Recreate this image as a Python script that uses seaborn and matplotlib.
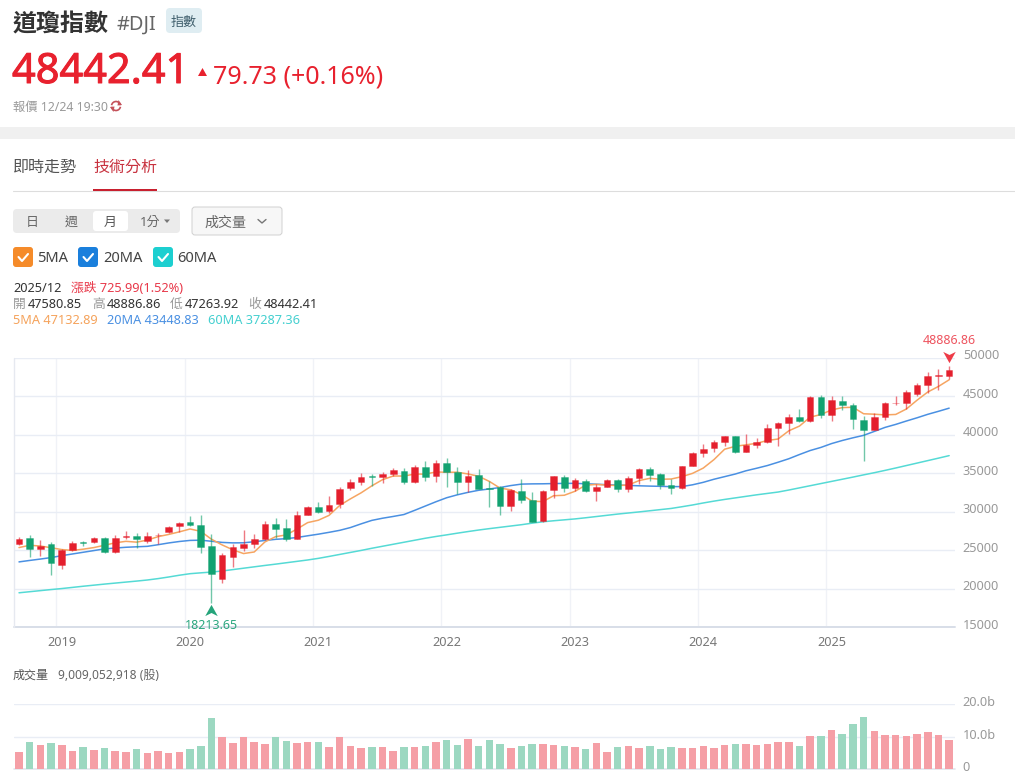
import numpy as np
import pandas as pd
import seaborn as sns
import matplotlib
matplotlib.use("Agg")
import matplotlib.pyplot as plt
import matplotlib.patheffects as pe
from matplotlib.colors import to_rgba
from matplotlib.patches import FancyBboxPatch, Rectangle, Polygon, Arc
from matplotlib.path import Path
from matplotlib.transforms import ScaledTranslation

# monthly candles, 2018/09 .. 2025/12
open_px = [25865, 26600, 25150, 25800, 23060, 25020, 26010, 26080, 26640, 24820, 26770, 26873,
           26198, 26963, 27348, 28109, 28639, 28320, 25591, 21227, 24120, 25342, 25879, 26414,
           28439, 27941, 26502, 29639, 30627, 30055, 31066, 33054, 33904, 34584, 34507, 34933,
           35312, 33834, 35850, 34678, 36321, 35150, 33820, 34740, 33061, 33150, 30737, 32720,
           31510, 28855, 32787, 34570, 33132, 34000, 32700, 33274, 34098, 32908, 34407, 35560,
           34837, 33433, 33053, 35951, 37566, 38283, 38996, 39807, 37816, 38686, 39119, 40843,
           41563, 42330, 41763, 44910, 42544, 44350, 43841, 41950, 40669, 42270, 44094, 44130,
           45350, 46397, 47562, 47580.85]
high_px = [26770, 27000, 26290, 26030, 25170, 26150, 26160, 26700, 26680, 26940, 27460, 27200,
           27370, 27200, 28175, 28702, 29400, 29570, 27070, 24700, 25760, 27580, 27072, 28750,
           29199, 29041, 30116, 30700, 31272, 32009, 33259, 34256, 35091, 34870, 35171, 35631,
           35631, 36052, 36565, 36679, 36953, 35824, 35373, 35492, 34000, 33298, 32911, 34220,
           32505, 32889, 34650, 34712, 34334, 34200, 33570, 34257, 34260, 34588, 35679, 35750,
           34979, 34250, 35987, 37778, 38783, 39282, 39889, 39889, 40077, 39580, 41430, 41700,
           42740, 43340, 45074, 45170, 45090, 45054, 44100, 42390, 42870, 44300, 45040, 45750,
           46740, 48090, 48520, 48886.86]
low_px = [25734, 24130, 24270, 21760, 22630, 24880, 25520, 25999, 24700, 24680, 26440, 25339,
          25978, 25750, 27300, 27326, 28170, 24680, 18213.65, 20735, 22790, 24843, 25351, 26314,
          26537, 26143, 26501, 29530, 29856, 29842, 30547, 32818, 33473, 33320, 33741, 34690,
          33613, 33785, 34006, 33920, 33150, 32272, 32578, 32913, 30635, 29610, 30144, 31155,
          28715, 28660, 31727, 32500, 32650, 32500, 31429, 33235, 32540, 32500, 33660, 34000,
          33000, 32327, 32950, 35900, 37122, 37800, 38500, 37600, 37800, 38250, 38900, 38500,
          40040, 41700, 41600, 42170, 41800, 43170, 40690, 36612, 40669, 41900, 43820, 43340,
          45040, 45480, 45870, 47263.92]
close_px = [26458, 25116, 25538, 23327, 24999, 25916, 25930, 26593, 24815, 26600, 26864, 26403,
            26917, 27046, 28051, 28538, 28256, 25409, 21917, 24346, 25383, 25813, 26428, 28430,
            27782, 26501, 29639, 30606, 29982, 30932, 32981, 33874, 34529, 34502, 34935, 35360,
            33843, 35820, 34483, 36338, 35131, 33893, 34678, 32977, 32990, 30775, 32845, 31510,
            28725, 32732, 34589, 33147, 34086, 32657, 33274, 34098, 32908, 34407, 35560, 34722,
            33508, 33053, 35951, 37690, 38150, 38996, 39807, 37816, 38686, 39119, 40843, 41563,
            42330, 41763, 44910, 42544, 44544, 43841, 42002, 40669, 42270, 44094, 44130, 45544,
            46397, 47562, 47716, 48442.41]
ma5 = [25350, 25650, 25550, 25330, 25090, 24980, 25140, 25350, 25650, 25970, 26160, 26055,
       26320, 26766, 27056, 27391, 27762, 27460, 26434, 25693, 25062, 24574, 24777, 26080,
       26767, 26991, 27756, 28592, 28902, 29532, 30828, 31675, 32460, 33364, 34164, 34640,
       34634, 34892, 34888, 35169, 35123, 35133, 34905, 34603, 33934, 33063, 32853, 32219,
       31369, 31317, 32080, 32141, 32656, 33442, 33551, 33452, 33405, 33469, 34049, 34339,
       34221, 34250, 34559, 34985, 35670, 36768, 38119, 38492, 38691, 38885, 39254, 39445,
       40508, 41124, 42282, 42622, 43218, 43520, 43568, 42720, 42665, 42575, 42633, 43341,
       44487, 45545, 46270, 47132.89]
ma20 = [23490, 23680, 23860, 24050, 24300, 24520, 24740, 24960, 25180, 25290, 25390, 25450,
        25510, 25720, 25950, 26140, 26280, 26310, 26170, 26020, 25960, 25970, 26110, 26270,
        26420, 26510, 26660, 26880, 27090, 27330, 27590, 27950, 28430, 28880, 29160, 29390,
        29640, 30180, 30740, 31300, 31820, 32200, 32520, 32790, 32960, 33150, 33400, 33590,
        33620, 33630, 33660, 33680, 33690, 33630, 33580, 33510, 33470, 33420, 33370, 33330,
        33300, 33260, 33270, 33500, 33820, 34220, 34560, 34900, 35320, 35650, 36000, 36430,
        36880, 37430, 37950, 38350, 38850, 39250, 39600, 39920, 40430, 40950, 41340, 41780,
        42200, 42650, 43040, 43448.83]
ma60 = [19480, 19620, 19760, 19900, 20030, 20180, 20330, 20470, 20610, 20740, 20870, 21000,
        21140, 21320, 21530, 21760, 21960, 22070, 22170, 22310, 22490, 22670, 22850, 23030,
        23200, 23380, 23560, 23740, 23950, 24200, 24460, 24720, 24980, 25260, 25520, 25780,
        26040, 26300, 26560, 26790, 27000, 27220, 27430, 27630, 27810, 27980, 28150, 28320,
        28520, 28700, 28830, 28950, 29070, 29220, 29380, 29540, 29700, 29840, 29980, 30130,
        30280, 30430, 30650, 30880, 31140, 31380, 31600, 31800, 32000, 32200, 32380, 32560,
        32820, 33100, 33380, 33660, 33940, 34220, 34500, 34790, 35070, 35370, 35680, 36000,
        36320, 36640, 36960, 37287.36]
volume = [5.4, 8.4, 7.3, 8.2, 7.3, 5.5, 6.7, 5.9, 6.4, 5.6, 5.3, 6.2,
          5.1, 5.7, 5.0, 5.2, 6.3, 7.0, 15.6, 9.9, 8.1, 9.9, 8.4, 7.6,
          10.0, 8.6, 8.0, 8.3, 8.3, 6.8, 9.8, 7.0, 6.6, 6.9, 6.8, 5.7,
          6.7, 6.8, 7.2, 8.4, 8.9, 7.4, 9.2, 7.2, 9.0, 7.9, 6.4, 7.0,
          7.9, 7.9, 7.3, 7.0, 6.9, 6.2, 8.2, 5.4, 6.7, 7.0, 6.5, 7.2,
          6.3, 6.7, 6.4, 6.4, 7.2, 6.4, 7.4, 7.9, 7.7, 7.4, 7.7, 8.4,
          8.4, 7.2, 10.2, 10.3, 12.0, 10.8, 13.8, 15.9, 11.8, 10.6, 10.4, 10.2,
          10.9, 11.4, 10.6, 9.01]
year_ticks = [4, 16, 28, 40, 52, 64, 76]
year_labels = ["2019", "2020", "2021", "2022", "2023", "2024", "2025"]
price_ticks = [15000, 20000, 25000, 30000, 35000, 40000, 45000, 50000]
vol_ticks = [0, 10, 20]
vol_labels = ["0", "10.0b", "20.0b"]

RED = "#E41F2D"
GREEN = "#12A271"
GRID = "#E9EDF5"
TXT = "#333333"
FONT = ["Noto Sans", "Noto Sans CJK TC", "DejaVu Sans"]

W, H = 1015, 776
sns.set_theme(style="white")
plt.rcParams["font.family"] = FONT
plt.rcParams["patch.edgecolor"] = "none"

df = pd.DataFrame({"idx": np.arange(len(close_px)), "open": open_px, "high": high_px,
                   "low": low_px, "close": close_px, "vol": volume,
                   "ma5": ma5, "ma20": ma20, "ma60": ma60})
df["up"] = df["close"] > df["open"]

fig = plt.figure(figsize=(W / 100, H / 100), dpi=100, facecolor="white")


def axes_px(left, top, right, bottom):
    return fig.add_axes([left / W, 1 - bottom / H, (right - left) / W, (bottom - top) / H])


def style_axes(ax):
    ax.set_facecolor("none")
    for s in ax.spines.values():
        s.set_visible(False)
    ax.set_xlim(-0.5, 87.5)
    ax.set_xlabel("")
    ax.set_ylabel("")
    ax.yaxis.grid(True, color=GRID, lw=1.0)
    ax.set_axisbelow(True)
    ax.tick_params(axis="both", length=0)
    ax.yaxis.tick_right()


# price panel
ax = axes_px(13.66, 357.7, 954.5, 627.3)
for col, c in [("ma60", "#55DAD5"), ("ma20", "#4A90E2"), ("ma5", "#F6A562")]:
    sns.lineplot(data=df, x="idx", y=col, color=c, lw=1.1, ax=ax, zorder=2)
for up, sub in df.groupby("up"):
    c = RED if up else GREEN
    ax.vlines(sub["idx"], sub["low"], sub["high"], color=c, lw=1.0, alpha=0.6, zorder=3)
    lo = sub[["open", "close"]].min(axis=1)
    hi = sub[["open", "close"]].max(axis=1)
    ax.bar(sub["idx"], hi - lo, bottom=lo, width=0.62, color=c, edgecolor=to_rgba(c, 0.35), lw=0.72, zorder=4)
style_axes(ax)
ax.set_ylim(15000, 50000)
ax.set_yticks(price_ticks)
ax.set_yticklabels([])
ax.set_xticks(year_ticks)
ax.set_xticklabels(year_labels, fontsize=9.2, color="#777777")
ax.tick_params(axis="x", pad=6)
ax.set_xticks([t - 0.5 for t in year_ticks], minor=True)
ax.xaxis.grid(True, which="minor", color="#F0F2F7", lw=1.0)
ax.tick_params(axis="x", which="minor", length=0)
ax.axhline(15000, color="#D8DEE8", lw=1.4, clip_on=False, zorder=1)
ax.axvline(-0.5, color="#E6E9F0", lw=1.0, clip_on=False, zorder=1)
for v in price_ticks:
    ax.annotate(str(v), (1, v), xycoords=ax.get_yaxis_transform(), xytext=(6, 1.5),
                textcoords="offset points", va="center", ha="left", fontsize=9.2, color="#999999")

# high / low markers
arrow_down = Path([(-1, 0.9), (0, 0.4), (1, 0.9), (0, -0.9), (-1, 0.9)])
arrow_up = Path([(-1, -0.9), (0, -0.4), (1, -0.9), (0, 0.9), (-1, -0.9)])
hi_i = int(df["high"].idxmax())
lo_i = int(df["low"].idxmin())
ax.plot(df["idx"][hi_i], df["high"][hi_i], marker=arrow_down, ms=9, color="#EE3B47", mew=0, clip_on=False,
        transform=ax.transData + ScaledTranslation(0, 9 / 100, fig.dpi_scale_trans), zorder=6)
ax.plot(df["idx"][lo_i], df["low"][lo_i], marker=arrow_up, ms=9, color="#25A47A", mew=0, clip_on=False,
        transform=ax.transData + ScaledTranslation(0, -7.5 / 100, fig.dpi_scale_trans), zorder=6)
ax.annotate(f"{df['high'][hi_i]:.2f}", (df["idx"][hi_i], df["high"][hi_i]), xytext=(0, 18.7), textcoords="offset points",
            ha="center", va="center", fontsize=9, color="#EE5560", annotation_clip=False)
ax.annotate(f"{df['low'][lo_i]:.2f}", (df["idx"][lo_i], df["low"][lo_i]), xytext=(0, -16.5), textcoords="offset points",
            ha="center", va="center", fontsize=9, color="#2BA67E", annotation_clip=False)

# volume panel
vax = axes_px(13.66, 704, 954.5, 769.3)
sns.barplot(data=df, x="idx", y="vol", hue="up", palette={True: "#F59FA6", False: "#9CD8C1"},
            native_scale=True, dodge=False, width=0.7, saturation=1, legend=False, errorbar=None,
            lw=0, ax=vax, zorder=3)
style_axes(vax)
vax.set_ylim(0, 20)
vax.set_yticks(vol_ticks)
vax.set_yticklabels([])
vax.set_xticks([])
vax.axhline(0, color="#E2E6EE", lw=1.2, clip_on=False, zorder=1)
for v, lab in zip(vol_ticks, vol_labels):
    vax.annotate(lab, (1, v), xycoords=vax.get_yaxis_transform(), xytext=(6, 1),
                 textcoords="offset points", va="center", ha="left", fontsize=9.2, color="#999999")

# page furniture in pixel coordinates
page = fig.add_axes([0, 0, 1, 1], zorder=10)
page.set_xlim(0, W)
page.set_ylim(H, 0)
page.axis("off")


def txt(x, y, s, px, color=TXT, ha="left", weight="normal"):
    return page.text(x, y, s, fontsize=px * 0.72, color=color, ha=ha, va="center_baseline", fontweight=weight)


def box(x0, y0, x1, y1, fc, ec="none", r=3, lw=1.0):
    page.add_patch(FancyBboxPatch((x0 + r, y0 + r), x1 - x0 - 2 * r, y1 - y0 - 2 * r,
                                  boxstyle=f"round,pad={r},rounding_size={r}", fc=fc, ec=ec, lw=lw))


txt(13, 22, "道瓊指數", 24, "#333333", weight="bold")
txt(117, 22, "#DJI", 20, "#666666")
box(166, 8, 202, 33, "#DFEDF2", r=4)
txt(184, 21, "指數", 13, "#3F5E6C", ha="center")
big = txt(12, 67, "48442.41", 41.5, "#E8212E")
big.set_path_effects([pe.withStroke(linewidth=0.7, foreground="#E8212E")])
page.add_patch(Polygon([(198, 76), (207, 76), (202.5, 68)], fc="#E8212E", ec="none"))
txt(213, 74.5, "79.73 (+0.16%)", 25, "#E8212E")
txt(13, 106, "報價 12/24 19:30", 12.3, "#999999")
page.add_patch(Arc((116, 106), 9, 9, theta1=190, theta2=350, color="#C4515A", lw=1.2))
page.add_patch(Arc((116, 106), 9, 9, theta1=10, theta2=170, color="#C4515A", lw=1.2))
page.add_patch(Polygon([(118.5, 100), (122, 105), (117.5, 105.5)], fc="#C4515A", ec="none"))
page.add_patch(Polygon([(113.5, 112), (110, 107), (114.5, 106.5)], fc="#C4515A", ec="none"))

page.add_patch(Rectangle((0, 127), W, 12, fc="#F0F0F0", ec="none"))
txt(13, 166, "即時走勢", 16, "#555555")
txt(93, 166, "技術分析", 16, "#C8323F")
page.plot([13, W], [190.5, 190.5], color="#DDDDDD", lw=0.8)
page.add_patch(Rectangle((93, 189), 64, 2, fc="#C8202F", ec="none", zorder=3))

box(13, 209, 180, 233, "#EBEBEB", r=4)
box(93, 211, 128, 231, "white", r=3)
txt(32, 221, "日", 13, "#666666", ha="center")
txt(71, 221, "週", 13, "#666666", ha="center")
txt(110, 221, "月", 13, "#555555", ha="center")
txt(140, 221, "1分", 13, "#666666")
page.add_patch(Polygon([(164, 219.5), (170, 219.5), (167, 223)], fc="#777777", ec="none"))
box(192, 207, 282, 235, "#F7F7F7", ec="#D0D0D0", r=3, lw=0.7)
txt(205, 221, "成交量", 14, "#666666")
page.plot([258, 262, 266], [219.5, 223, 219.5], color="#777777", lw=1.0)

for x0, c, lab, tx in [(13, "#F58B2A", "5MA", 37), (78, "#1A7FDC", "20MA", 103), (153, "#1DCFD0", "60MA", 177)]:
    box(x0, 247, x0 + 20, 267, c, r=3)
    page.plot([x0 + 5.5, x0 + 9, x0 + 15], [257, 261, 254], color="white", lw=1.5)
    txt(tx, 257, lab, 14.7, "#444444")

txt(13, 287, "2025/12", 12.8, "#333333")
txt(71, 287, "漲跌 725.99(1.52%)", 12.8, "#E8394A")
for xl, xv, lab, val in [(13, 28, "開", "47580.85"), (92, 107, "高", "48886.86"),
                         (170, 185, "低", "47263.92"), (248, 264, "收", "48442.41")]:
    txt(xl, 303, lab, 12.8, "#999999")
    txt(xv, 303, val, 12.8, "#333333")
txt(13, 319, "5MA 47132.89", 12.8, "#F5A35C")
txt(107, 319, "20MA 43448.83", 12.8, "#4A90E2")
txt(208, 319, "60MA 37287.36", 12.8, "#45D0D0")

txt(13, 674, "成交量", 12, "#555555")
txt(58, 674, "9,009,052,918 (股)", 12, "#666666")

fig.savefig("out.png", dpi=100, facecolor="white")
